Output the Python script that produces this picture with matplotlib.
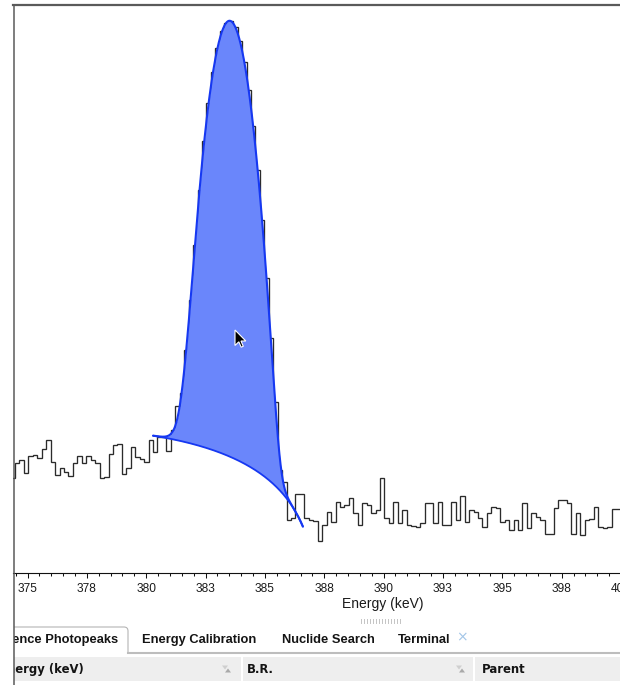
import numpy as np
import matplotlib
matplotlib.use("Agg")
import matplotlib.pyplot as plt
from matplotlib.lines import Line2D
from matplotlib.patches import Rectangle, Polygon, PathPatch
from matplotlib.path import Path
from matplotlib.ticker import MultipleLocator, FuncFormatter

plt.rcParams['font.family'] = ['Liberation Sans', 'DejaVu Sans']

# ---------------- data ----------------
bin_start = 374.2875          # keV, first bin lower edge
bin_width = 0.1875            # keV per channel
counts = [
    18.5,
    24.9, 26.2, 20.3, 28.3, 28.9, 27.1, 32.2, 38.5, 25.4, 19.7,
    22.4, 20.9, 19.3, 24.6, 28.3, 24.6, 28.3, 26.2, 24.9, 18.5,
    18.8, 29.4, 35.0, 35.7, 19.9, 22.4, 33.5, 27.6, 26.6, 25.4,
    38.5, 30.7, 40.5, 40.5, 31.2, 46.6, 74, 95, 216, 565,
    1623, 4665, 11830, 24800, 45300, 71500, 97800, 116000, 119000, 106000,
    81700, 54600, 31600, 15850, 6890, 2610, 861, 272, 79.8, 21.6,
    17.2, 8.3, 8.6, 13.7, 13.7, 8.6, 8.3, 8.1, 5.5, 7.5,
    9.7, 8.0, 11.8, 10.7, 11.1, 12.6, 9.4, 7.5, 11.4, 11.1,
    9.5, 10.0, 18.5, 8.6, 7.8, 11.8, 7.8, 10.0, 7.5, 7.4,
    7.3, 7.8, 11.6, 11.6, 7.8, 11.8, 7.5, 7.5, 11.8, 8.3,
    13.1, 8.0, 10.0, 9.7, 8.6, 7.3, 9.4, 10.7, 10.4, 8.0,
    8.3, 6.8, 8.3, 6.8, 11.4, 7.1, 9.4, 8.8, 8.3, 6.4,
    6.4, 10.4, 12.2, 12.2, 11.4, 6.4, 9.4, 6.2, 8.3, 8.4,
    10.7, 7.3, 7.1, 7.3, 10.2, 10.2, 10.2,
]

# fitted peak (Gaussian with low-energy exponential tail) and quadratic continuum
roi_range = [380.29, 386.6]          # keV
peak_mean = 383.51                   # keV
peak_sigma = 0.495                   # keV
peak_amplitude = 120000.0            # counts / channel at centroid
peak_tail = 2.92                     # tail start, in sigmas
continuum_ref = 380.29               # keV
continuum_coefs = [41.8, -3.03, -0.386]

x_tick_major = 2.5
x_tick_minor = 0.5
x_label = "Energy (keV)"

tab_labels = ["Reference Photopeaks", "Energy Calibration", "Nuclide Search", "Terminal"]
header_labels = ["Energy (keV)", "B.R.", "Parent"]

# ---------------- figure ----------------
W, H = 620, 685
fig = plt.figure(figsize=(W / 100, H / 100), dpi=100)
fig.patch.set_facecolor('white')

px_per_kev = 23.74
x0_px, e0 = 27.5, 375.0
ax_left, ax_right, ax_top, ax_bot = 13, 753, 5, 573
ax = fig.add_axes([ax_left / W, (H - ax_bot) / H, (ax_right - ax_left) / W, (ax_bot - ax_top) / H])
ax.set_xlim(e0 + (ax_left - x0_px) / px_per_kev, e0 + (ax_right - x0_px) / px_per_kev)
ymin = 3.0
ax.set_yscale('log')
ax.set_ylim(ymin, ymin * 10 ** ((ax_bot - ax_top) / 120.0))

edges = bin_start + bin_width * np.arange(len(counts) + 1)
ax.stairs(counts, edges, baseline=None, color='#2b2b2b', lw=0.95, zorder=2)

E = np.linspace(roi_range[0], roi_range[1], 600)
t = E - continuum_ref
cont = continuum_coefs[0] + continuum_coefs[1] * t + continuum_coefs[2] * t ** 2
u = (E - peak_mean) / peak_sigma
g = np.where(u >= -peak_tail, np.exp(-0.5 * u ** 2), np.exp(0.5 * peak_tail ** 2 + peak_tail * u))
total = cont + peak_amplitude * g
ax.fill_between(E, cont, total, color='#6a86fb', lw=0, zorder=3)
ax.plot(E, total, color='#1638f2', lw=1.5, zorder=4, solid_capstyle='round')
ax.plot(E, cont, color='#1638f2', lw=1.3, zorder=4, solid_capstyle='round')

for s in ['left', 'right']:
    ax.spines[s].set_visible(False)
ax.spines['top'].set_color('#5a5a5a')
ax.spines['top'].set_linewidth(1.6)
ax.spines['bottom'].set_color('#111111')
ax.spines['bottom'].set_linewidth(0.8)
ax.yaxis.set_visible(False)
ax.xaxis.set_major_locator(MultipleLocator(x_tick_major))
ax.xaxis.set_minor_locator(MultipleLocator(x_tick_minor))
ax.xaxis.set_major_formatter(FuncFormatter(lambda v, p: f"{int(np.floor(v + 0.5))}"))
ax.tick_params(axis='x', which='major', length=3.8, width=0.75, color='#111111',
               labelsize=8.6, pad=3.4, labelcolor='#1a1a1a')
ax.tick_params(axis='x', which='minor', length=2.3, width=0.75, color='#111111')
ax.set_xlabel(x_label, fontsize=10, color='#1a1a1a')
ax.xaxis.set_label_coords(0.5, (ax_bot - 604) / (ax_bot - ax_top))
ax.xaxis.label.set_va('center')

# left border of the panel
fig.add_artist(Line2D([13.5 / W, 13.5 / W], [0, 1 - 4.5 / H], transform=fig.transFigure,
                      color='#5a5a5a', lw=1.1))

# ---------------- overlay (pixel coordinates) ----------------
ov = fig.add_axes([14 / W, 0, (W - 14) / W, 1])
ov.set_xlim(14, W)
ov.set_ylim(H, 0)
ov.axis('off')

# resize handle
for hx in np.arange(361, 403, 3):
    ov.add_line(Line2D([hx, hx], [619, 622.5], color='#c4c4c4', lw=0.7))

# tabs
tab_path = Path([(10, 627), (124, 627), (128, 627), (128, 631), (128, 652)],
                [Path.MOVETO, Path.LINETO, Path.CURVE3, Path.CURVE3, Path.LINETO])
ov.add_patch(PathPatch(tab_path, fill=False, edgecolor='#b5b5b5', lw=0.8))
ov.add_line(Line2D([128, W], [652.5, 652.5], color='#bdbdbd', lw=1.5))
tab_font = dict(fontsize=9.3, fontweight='bold', color='#141414', va='center', clip_on=True)
ov.text(118.5, 640, tab_labels[0], ha='right', **tab_font)
ov.text(141.7, 640, tab_labels[1], ha='left', **tab_font)
ov.text(281.5, 640, tab_labels[2], ha='left', **tab_font)
ov.text(398.3, 640, tab_labels[3], ha='left', **tab_font)
ov.text(461.5, 637, "\u00d7", ha='center', va='center', fontsize=10, color='#a3c6e8',
        family='DejaVu Sans')

# table header
ov.add_patch(Rectangle((10, 657), W, 24, facecolor='#eeeeee', edgecolor='none'))
for sx in (242, 473.5):
    ov.add_patch(Rectangle((sx - 1, 657), 2, 24, facecolor='white', edgecolor='none'))
hdr_font = dict(fontsize=8.4, fontweight='bold', color='#141414', va='center',
                family='DejaVu Sans', clip_on=True)
ov.text(83.3, 669.5, header_labels[0], ha='right', **hdr_font)
ov.text(247, 669.5, header_labels[1], ha='left', **hdr_font)
ov.text(481.7, 669.5, header_labels[2], ha='left', **hdr_font)
for ix in (226.5, 460.5):
    ov.add_patch(Polygon([(ix - 4.5, 665.5), (ix + 1.5, 665.5), (ix - 1.5, 669.5)],
                         closed=True, facecolor='#cfcfcf', edgecolor='none'))
    ov.add_patch(Polygon([(ix - 1.5, 672.5), (ix + 4.5, 672.5), (ix + 1.5, 668.5)],
                         closed=True, facecolor='#a9a9a9', edgecolor='none'))

# mouse cursor
tip = (235.0, 330.0)
cur = [(0, 0), (0, 15.5), (3.8, 11.8), (6.2, 17.2), (8.3, 16.3), (6.0, 11.0), (10.8, 11.0)]
ov.add_patch(Polygon([(tip[0] + a, tip[1] + b) for a, b in cur], closed=True,
                     facecolor='black', edgecolor='white', lw=0.8, zorder=10))

fig.savefig('out.png', dpi=100)
